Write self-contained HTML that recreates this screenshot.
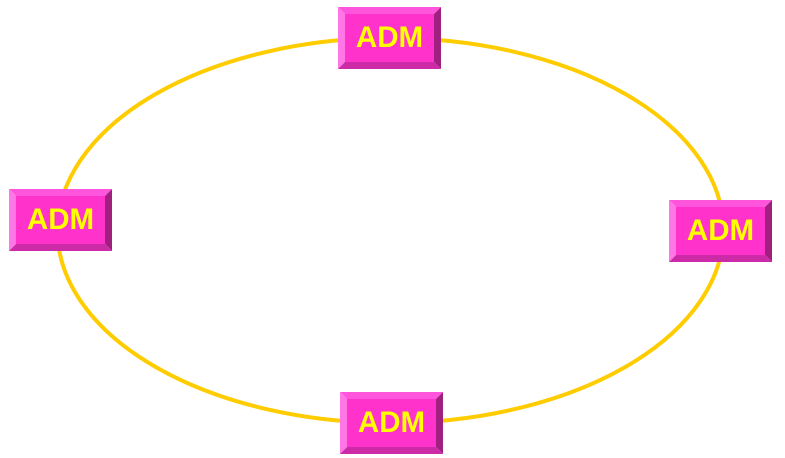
<!DOCTYPE html>
<html><head><meta charset="utf-8"><style>
html,body{margin:0;padding:0;background:#fff;width:785px;height:458px;overflow:hidden}
svg text{font-family:"Liberation Sans",sans-serif;font-weight:bold;font-size:29.5px;fill:#ffff00}
</style></head><body>
<svg width="785" height="458" viewBox="0 0 785 458">
<ellipse cx="390.5" cy="230.5" rx="333" ry="192.5" fill="none" stroke="#ffcc00" stroke-width="4"/>
<g id="boxes"></g>
</svg>
<script>
const boxes=[[338,7,'adm-top'],[9,189,'adm-left'],[669,200,'adm-right'],[340,392,'adm-bottom']];
const g=document.getElementById('boxes');
const NS='http://www.w3.org/2000/svg';
boxes.forEach(([x,y,n])=>{
  const w=103,h=62,b=7;
  const grp=document.createElementNS(NS,'g');
  
  
  const polys=[
    [`${x},${y} ${x+w},${y} ${x+w-b},${y+b} ${x+b},${y+b}`,'#ff55dd'],
    [`${x},${y} ${x+b},${y+b} ${x+b},${y+h-b} ${x},${y+h}`,'#ff77e6'],
    [`${x+w},${y} ${x+w},${y+h} ${x+w-b},${y+h-b} ${x+w-b},${y+b}`,'#a0207f'],
    [`${x},${y+h} ${x+w},${y+h} ${x+w-b},${y+h-b} ${x+b},${y+h-b}`,'#cc2aa6'],
  ];
  polys.forEach(([p,c])=>{const e=document.createElementNS(NS,'polygon');e.setAttribute('points',p);e.setAttribute('fill',c);grp.appendChild(e);});
  const r=document.createElementNS(NS,'rect');
  r.setAttribute('x',x+b);r.setAttribute('y',y+b);r.setAttribute('width',w-2*b);r.setAttribute('height',h-2*b);r.setAttribute('fill','#ff33cc');
  grp.appendChild(r);
  const t=document.createElementNS(NS,'text');
  t.setAttribute('x',x+w/2);t.setAttribute('y',y+h/2+9);t.setAttribute('text-anchor','middle');
  t.textContent='ADM';
  
  
  grp.appendChild(t);
  g.appendChild(grp);
});
</script>
</body></html>
